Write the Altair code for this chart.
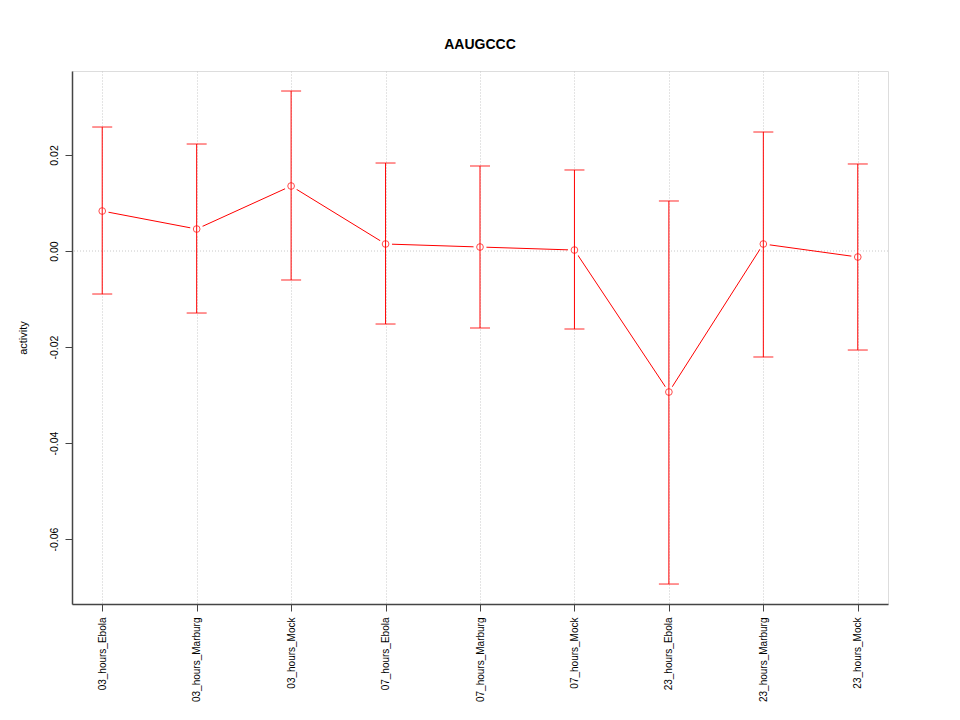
import altair as alt
import pandas as pd

categories = ["03_hours_Ebola", "03_hours_Marburg", "03_hours_Mock",
              "07_hours_Ebola", "07_hours_Marburg", "07_hours_Mock",
              "23_hours_Ebola", "23_hours_Marburg", "23_hours_Mock"]
means = [0.00833, 0.00458, 0.01354, 0.00146, 0.00083, 0.00020, -0.02938, 0.00146, -0.00125]
uppers = [0.02583, 0.02229, 0.03333, 0.01833, 0.01771, 0.01688, 0.01042, 0.02479, 0.01813]
lowers = [-0.00896, -0.01292, -0.00604, -0.01521, -0.01604, -0.01625, -0.06938, -0.02208, -0.02063]
y_ticks = [-0.06, -0.04, -0.02, 0.0, 0.02]

df = pd.DataFrame({"cat": categories, "mean": means, "upper": uppers, "lower": lowers})

RED = "#FF0000"
FONT = "Liberation Sans"

x_enc = alt.X("cat:N", sort=categories, title=None,
              scale=alt.Scale(type="point", padding=0.32),
              axis=alt.Axis(labelAngle=-90, labelAlign="right", labelBaseline="middle",
                            labelFontSize=10, labelFont=FONT, labelColor="#000000",
                            labelPadding=6, tickSize=7, tickColor="#444444",
                            domainColor="#444444", domainWidth=1.5,
                            grid=True, gridColor="#c8c8c8", gridDash=[1, 2], gridWidth=1))
y_scale = alt.Scale(domain=[-0.07354, 0.0375], nice=False, zero=False)
y_axis = alt.Axis(values=y_ticks, labelExpr="replace(format(datum.value, '.2f'), '\u2212', '-')",
                  labelAngle=-90, labelAlign="center",
                  labelBaseline="bottom", labelFontSize=10.5, labelFont=FONT, labelColor="#000000",
                  labelPadding=6, tickSize=7, tickColor="#444444",
                  domainColor="#444444", domainWidth=1.5, grid=False,
                  title="activity", titleFont=FONT, titleFontSize=11, titleFontWeight="normal",
                  titleColor="#000000", titlePadding=21)

base = alt.Chart(df)

line = base.mark_line(color=RED, strokeWidth=1).encode(
    x=x_enc, y=alt.Y("mean:Q", scale=y_scale, axis=y_axis))
halo = base.mark_point(shape="circle", filled=True, color="white", size=170, opacity=1).encode(
    x=alt.X("cat:N", sort=categories), y=alt.Y("mean:Q"))
zero_rule = alt.Chart(pd.DataFrame({"z": [0.0]})).mark_rule(
    color="#c8c8c8", strokeDash=[1, 2], strokeWidth=1).encode(y="z:Q")
bars = base.mark_rule(color=RED, strokeWidth=1).encode(
    x=alt.X("cat:N", sort=categories), y=alt.Y("lower:Q"), y2="upper:Q")
cap_hi = base.mark_tick(color=RED, size=20, thickness=1.2, orient="horizontal").encode(
    x=alt.X("cat:N", sort=categories), y=alt.Y("upper:Q"))
cap_lo = base.mark_tick(color=RED, size=20, thickness=1.2, orient="horizontal").encode(
    x=alt.X("cat:N", sort=categories), y=alt.Y("lower:Q"))
pts = base.mark_point(shape="circle", filled=False, color=RED, size=45, strokeWidth=1).encode(
    x=alt.X("cat:N", sort=categories), y=alt.Y("mean:Q"))

chart = alt.layer(zero_rule, line, halo, bars, cap_hi, cap_lo, pts).properties(
    width=816, height=533,
    title=alt.TitleParams("AAUGCCC", fontSize=14, fontWeight="bold", font=FONT,
                          color="#000000", anchor="middle", offset=19),
    autosize=alt.AutoSizeParams(type="none"),
    padding={"left": 64, "top": 63, "right": 64, "bottom": 108},
).configure_view(stroke="#888888", strokeWidth=1.5).configure(background="white")

chart.save("out.html", embed_options={"renderer": "svg", "actions": False})
